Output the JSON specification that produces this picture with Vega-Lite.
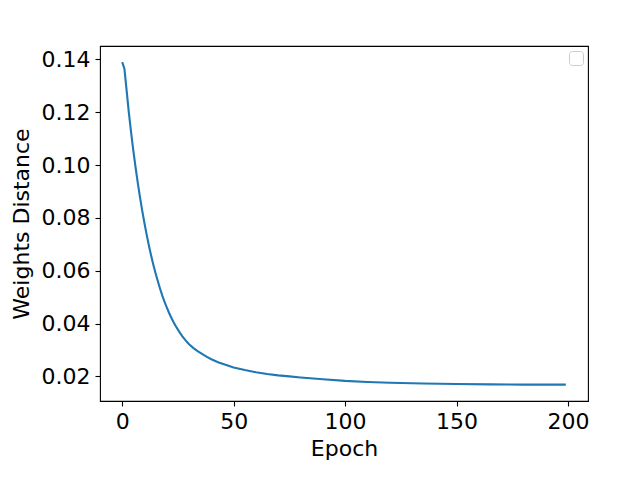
{
  "$schema": "https://vega.github.io/schema/vega-lite/v6.json",
  "width": 488,
  "height": 355,
  "autosize": {"type": "none"},
  "padding": {"left": 100, "top": 46, "right": 52, "bottom": 79},
  "background": "white",
  "config": {
    "view": {"stroke": "black", "strokeWidth": 1.1},
    "font": "DejaVu Sans",
    "axis": {
      "domain": false,
      "grid": false,
      "ticks": true,
      "tickColor": "black",
      "tickSize": 5,
      "tickWidth": 1.1,
      "labelFont": "DejaVu Sans",
      "labelFontSize": 22,
      "labelColor": "black",
      "labelPadding": 5,
      "titleFont": "DejaVu Sans",
      "titleFontSize": 22,
      "titleFontWeight": "normal",
      "titleColor": "black"
    }
  },
  "data": {
    "values": [
      {"epoch": 0, "distance": 0.1390},
      {"epoch": 1, "distance": 0.1365},
      {"epoch": 2, "distance": 0.1282},
      {"epoch": 3, "distance": 0.1198},
      {"epoch": 4, "distance": 0.1124},
      {"epoch": 5, "distance": 0.1055},
      {"epoch": 6, "distance": 0.0992},
      {"epoch": 7, "distance": 0.0933},
      {"epoch": 8, "distance": 0.0878},
      {"epoch": 9, "distance": 0.0827},
      {"epoch": 10, "distance": 0.0780},
      {"epoch": 11, "distance": 0.0736},
      {"epoch": 12, "distance": 0.0695},
      {"epoch": 13, "distance": 0.0657},
      {"epoch": 14, "distance": 0.0622},
      {"epoch": 15, "distance": 0.0590},
      {"epoch": 16, "distance": 0.0560},
      {"epoch": 17, "distance": 0.0532},
      {"epoch": 18, "distance": 0.0506},
      {"epoch": 19, "distance": 0.0482},
      {"epoch": 20, "distance": 0.0461},
      {"epoch": 21, "distance": 0.0441},
      {"epoch": 22, "distance": 0.0423},
      {"epoch": 23, "distance": 0.0406},
      {"epoch": 24, "distance": 0.0391},
      {"epoch": 25, "distance": 0.0377},
      {"epoch": 26, "distance": 0.0364},
      {"epoch": 27, "distance": 0.0352},
      {"epoch": 28, "distance": 0.0341},
      {"epoch": 29, "distance": 0.0331},
      {"epoch": 30, "distance": 0.0322},
      {"epoch": 32, "distance": 0.0307},
      {"epoch": 34, "distance": 0.0295},
      {"epoch": 36, "distance": 0.0284},
      {"epoch": 38, "distance": 0.0274},
      {"epoch": 40, "distance": 0.0265},
      {"epoch": 43, "distance": 0.0254},
      {"epoch": 46, "distance": 0.0245},
      {"epoch": 50, "distance": 0.0234},
      {"epoch": 55, "distance": 0.0224},
      {"epoch": 60, "distance": 0.0216},
      {"epoch": 65, "distance": 0.0209},
      {"epoch": 70, "distance": 0.0204},
      {"epoch": 75, "distance": 0.0200},
      {"epoch": 80, "distance": 0.0196},
      {"epoch": 90, "distance": 0.0189},
      {"epoch": 100, "distance": 0.0183},
      {"epoch": 110, "distance": 0.0179},
      {"epoch": 120, "distance": 0.0176},
      {"epoch": 135, "distance": 0.0173},
      {"epoch": 150, "distance": 0.0171},
      {"epoch": 165, "distance": 0.0170},
      {"epoch": 180, "distance": 0.0169},
      {"epoch": 199, "distance": 0.0169}
    ]
  },
  "mark": {"type": "line", "strokeWidth": 2.1, "clip": true},
  "encoding": {
    "x": {
      "field": "epoch",
      "type": "quantitative",
      "title": "Epoch",
      "scale": {"domain": [-9.95, 208.95], "nice": false, "zero": false},
      "axis": {"values": [0, 50, 100, 150, 200], "titlePadding": 6}
    },
    "y": {
      "field": "distance",
      "type": "quantitative",
      "title": "Weights Distance",
      "scale": {"domain": [0.01069, 0.14511], "nice": false, "zero": false},
      "axis": {"values": [0.02, 0.04, 0.06, 0.08, 0.10, 0.12, 0.14], "format": ".2f", "titlePadding": 8}
    },
    "color": {
      "datum": "series",
      "scale": {"range": ["#1f77b4"]},
      "legend": {
        "orient": "top-right",
        "offset": 5,
        "title": null,
        "labelExpr": "''",
        "symbolSize": 0,
        "symbolStrokeWidth": 0,
        "labelFontSize": 2,
        "labelOffset": 0,
        "padding": 6,
        "strokeColor": "#cccccc",
        "fillColor": "white",
        "cornerRadius": 3
      }
    }
  }
}
